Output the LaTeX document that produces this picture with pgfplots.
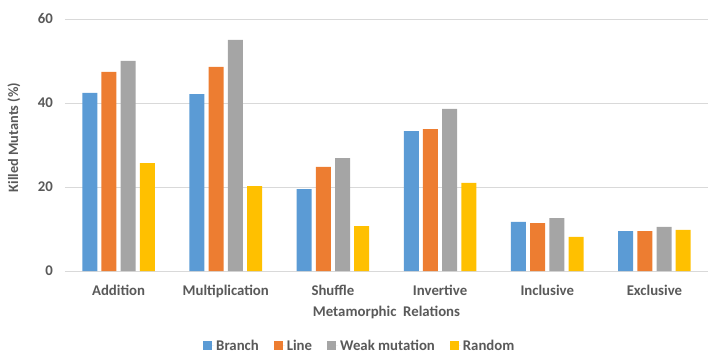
\documentclass[border=0pt]{standalone}
\usepackage{pgfplots}
\pgfplotsset{compat=1.18}
\usepackage{fontspec}
\setmainfont{Carlito}
\definecolor{cBranch}{HTML}{5B9BD5}
\definecolor{cLine}{HTML}{ED7D31}
\definecolor{cWeak}{HTML}{A5A5A5}
\definecolor{cRandom}{HTML}{FFC000}
\definecolor{txt}{HTML}{595959}
\definecolor{gridc}{HTML}{D9D9D9}
\newcommand{\lblfont}{\fontsize{14.8}{16}\selectfont\bfseries}

\pgfplotsset{
  sq/.style={draw=none, fill=#1,
    legend image code/.code={\fill[#1] (0pt,-4.5pt) rectangle (9pt,4.5pt); \path (0pt,0pt) -- (11pt,0pt);}},
}

\begin{document}
\begin{tikzpicture}
\begin{axis}[
  scale only axis, width=643pt, height=252pt,
  ybar=4.2pt, bar width=15pt,
  xmin=-0.5, xmax=5.5, ymin=0, ymax=60,
  xtick={0,1,2,3,4,5},
  xticklabels={Addition,Multiplication,Shuffle,Invertive,Inclusive,Exclusive},
  ytick={0,20,40,60},
  ymajorgrids, grid style={gridc, line width=0.9pt},
  axis line style={draw=none},
  major tick length=0pt,
  tick label style={font=\lblfont, text=txt, inner sep=0pt},
  /pgf/number format/assume math mode=true,
  yticklabel style={anchor=east, xshift=-12pt},
  xticklabel style={anchor=base, yshift=-24.5pt},
  xlabel={Metamorphic\hspace{0.23em} Relations},
  xlabel style={at={(axis description cs:0.5,-0.1806)}, anchor=base,
    font=\lblfont, text=txt, inner sep=0pt},
  ylabel={Killed Mutants (\%)},
  ylabel style={at={(axis description cs:-0.0793,0.53)}, anchor=center,
    font=\fontsize{14.3}{16}\selectfont\bfseries, text=txt, inner sep=0pt},
  legend columns=4,
  legend style={at={(axis description cs:0.4585,-0.2964)}, anchor=center,
    draw=none, fill=none, font=\lblfont, text=txt,
    /tikz/every even column/.append style={column sep=13pt}},
  legend cell align=left,
]
\addplot[sq=cBranch] coordinates {(0,42.4) (1,42.1) (2,19.5) (3,33.3) (4,11.7) (5,9.5)};
\addplot[sq=cLine] coordinates {(0,47.4) (1,48.6) (2,24.8) (3,33.8) (4,11.4) (5,9.5)};
\addplot[sq=cWeak] coordinates {(0,50.0) (1,55.0) (2,26.9) (3,38.6) (4,12.6) (5,10.5)};
\addplot[sq=cRandom] coordinates {(0,25.7) (1,20.2) (2,10.7) (3,21.0) (4,8.1) (5,9.8)};
\legend{Branch,Line,Weak mutation,Random}
\end{axis}
\path ([xshift=-65pt,yshift=-92pt]current axis.south west) rectangle ([xshift=1pt,yshift=19pt]current axis.north east);
\end{tikzpicture}
\end{document}
